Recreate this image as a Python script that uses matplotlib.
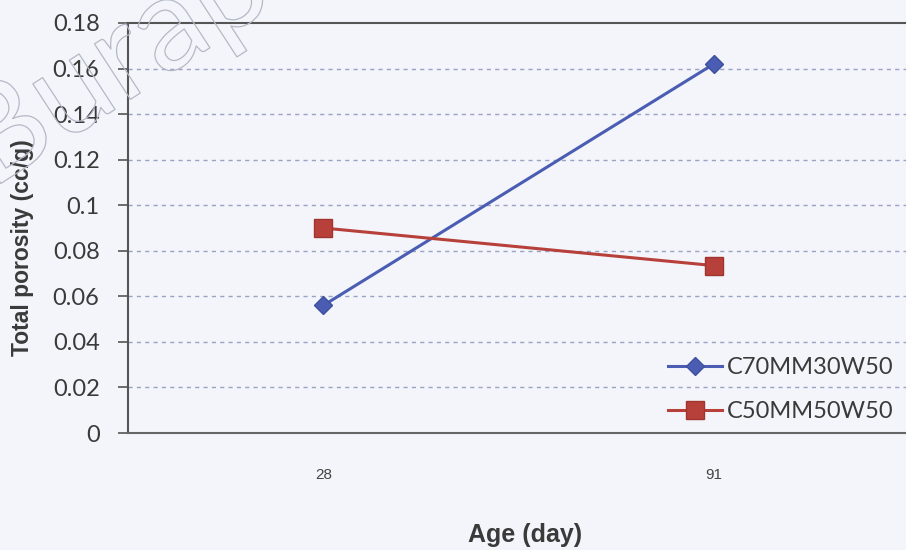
import matplotlib
matplotlib.use('Agg')
import matplotlib.pyplot as plt
import matplotlib.patheffects as pe

# data
ages = ['28', '91']
c70mm30w50 = [0.056, 0.162]
c50mm50w50 = [0.090, 0.0735]
y_ticks = [0, 0.02, 0.04, 0.06, 0.08, 0.1, 0.12, 0.14, 0.16, 0.18]
y_tick_labels = ['0', '0.02', '0.04', '0.06', '0.08', '0.1', '0.12', '0.14', '0.16', '0.18']

bg = '#f3f5fa'
fig = plt.figure(figsize=(9.06, 5.5), dpi=100, facecolor=bg)
ax = fig.add_axes([0.1413, 0.2127, 0.862, 0.7455], facecolor=bg)

x = list(range(len(ages)))
ax.plot(x, c70mm30w50, color='#4a5db3', lw=2.2, marker='D', ms=9,
        mfc='#4a5db3', mec='#3d4f9e', label='C70MM30W50', zorder=3)
ax.plot(x, c50mm50w50, color='#b8403a', lw=2.2, marker='s', ms=13,
        mfc='#b8403a', mec='#a0352f', label='C50MM50W50', zorder=3)

ax.set_xlim(-0.5, 1.5)
ax.set_ylim(0, 0.18)
ax.set_xticks(x)
ax.set_xticklabels(ages, fontsize=11, family='Liberation Sans', color='#444444')
ax.set_yticks(y_ticks)
ax.set_yticklabels(y_tick_labels, fontsize=17, family='Lato', color='#3a3a3a')
ax.tick_params(axis='x', length=0, pad=25)
ax.tick_params(axis='y', length=7.5, width=1.2, color='#555555', pad=13)

for v in y_ticks[1:-1]:
    ax.axhline(v, color='#9aa3c4', lw=1.0, ls=(0, (3, 3)), zorder=1)
ax.axhline(0.18, color='#555555', lw=1.5, zorder=2, clip_on=False)

ax.spines['left'].set_color('#555555')
ax.spines['left'].set_linewidth(1.5)
ax.spines['bottom'].set_color('#666666')
ax.spines['bottom'].set_linewidth(1.5)
ax.spines['top'].set_visible(False)
ax.spines['right'].set_visible(False)

ax.set_ylabel('Total porosity (cc/g)', fontsize=16.5, fontweight='bold',
              family='Liberation Sans', color='#3a3a3a', va='center')
ax.yaxis.set_label_coords(23 / 906, 1 - 248 / 550, transform=fig.transFigure)
ax.set_xlabel('Age (day)', fontsize=18, fontweight='bold',
              family='Liberation Sans', color='#3a3a3a', va='center')
ax.xaxis.set_label_coords(525 / 906, 1 - 535 / 550, transform=fig.transFigure)

leg = ax.legend(loc='lower right', bbox_to_anchor=(1.0, -0.01), frameon=False,
                prop={'family': 'Lato', 'size': 17},
                handlelength=2.3, handletextpad=0.2, labelspacing=0.95,
                borderpad=0.2, borderaxespad=0.45)
for t in leg.get_texts():
    t.set_color('#3a3a3a')

# watermark (outline only)
fig.text(-0.01, 1 - 190 / 550, 'Burapha', fontsize=94, rotation=33,
         rotation_mode='anchor', ha='left', va='baseline',
         color=(1, 1, 1, 0), family='Lato', zorder=10,
         path_effects=[pe.Stroke(linewidth=0.9, foreground='#b4b9c6')])

fig.savefig('out.png', dpi=100, facecolor=bg)
